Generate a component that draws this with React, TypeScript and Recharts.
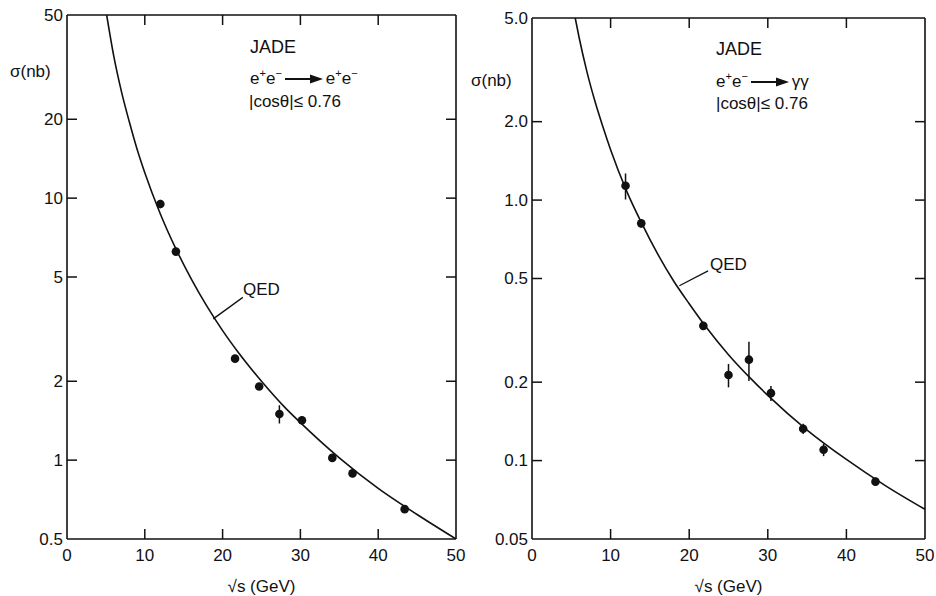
import React from "react";
import {
  ComposedChart,
  Scatter,
  Line,
  XAxis,
  YAxis,
  ErrorBar,
  ReferenceLine
} from "recharts";

const FONT = "'Liberation Sans', Arial, sans-serif";
const INK = "#111";

// sqrt(s) axis, shared by both panels
const energyTicks = [0, 10, 20, 30, 40, 50];
const innerEnergyTicks = [10, 20, 30, 40];

// left panel: e+e- -> e+e-
const bhabhaTicks = [0.5, 1, 2, 5, 10, 20, 50];
const bhabhaTickLabels = ["0.5", "1", "2", "5", "10", "20", "50"];
const bhabhaInnerTicks = [1, 2, 5, 10, 20];
const bhabhaX = [12.0, 14.0, 21.6, 24.7, 27.3, 30.2, 34.1, 36.7, 43.4];
const bhabhaSigma = [9.5, 6.25, 2.44, 1.91, 1.5, 1.42, 1.02, 0.89, 0.65];
const bhabhaErr = [0.35, 0.15, 0.07, 0.05, 0.12, 0.05, 0.03, 0.03, 0.02];
const bhabhaQedX = [5.1, 6, 7, 8, 9, 10, 12, 14, 16, 18, 20, 22, 25, 28, 30, 35, 40, 45, 50];
const bhabhaQedSigma = [50, 35, 25.5, 19.6, 15.4, 12.5, 8.7, 6.4, 4.9, 3.86, 3.12, 2.58, 2.0, 1.59, 1.39, 1.02, 0.78, 0.62, 0.5];

// right panel: e+e- -> gamma gamma
const gammaTicks = [0.05, 0.1, 0.2, 0.5, 1, 2, 5];
const gammaTickLabels = ["0.05", "0.1", "0.2", "0.5", "1.0", "2.0", "5.0"];
const gammaInnerTicks = [0.1, 0.2, 0.5, 1, 2];
const gammaX = [11.9, 13.9, 21.8, 25.0, 27.6, 30.4, 34.5, 37.1, 43.7];
const gammaSigma = [1.135, 0.814, 0.329, 0.213, 0.244, 0.1815, 0.1325, 0.11, 0.083];
const gammaErr = [0.13, 0.03, 0.012, 0.022, 0.042, 0.012, 0.006, 0.006, 0.003];
const gammaQedX = [5.5, 6, 7, 8, 9, 10, 12, 14, 16, 18, 20, 22, 25, 28, 30, 35, 40, 45, 50];
const gammaQedSigma = [5.0, 4.2, 3.1, 2.4, 1.92, 1.56, 1.09, 0.81, 0.62, 0.49, 0.4, 0.33, 0.255, 0.204, 0.178, 0.131, 0.101, 0.08, 0.065];

const TICK_LEN = 10;
const FRAME_W = 1.6;

const textStyle = { fontFamily: FONT, fontSize: 17, fill: INK };

const BottomLabel = ({ x, y, payload }: any) => (
  <text x={x} y={y + 16} textAnchor="middle" dominantBaseline="central" {...textStyle}>
    {payload.value}
  </text>
);

const makeLeftLabel = (ticks: number[], labels: string[]) => ({ x, y, payload }: any) => (
  <text x={x - 4} y={y} textAnchor="end" dominantBaseline="central" {...textStyle}>
    {labels[ticks.indexOf(payload.value)]}
  </text>
);

// inward tick marks at both ends of a grid position (bottom + top frame)
const VTickMarks = ({ x1, y1, y2 }: any) => {
  const top = Math.min(y1, y2);
  const bottom = Math.max(y1, y2);
  return (
    <g>
      <line x1={x1} x2={x1} y1={bottom} y2={bottom - TICK_LEN} stroke={INK} strokeWidth={1.5} />
      <line x1={x1} x2={x1} y1={top} y2={top + TICK_LEN} stroke={INK} strokeWidth={1.5} />
    </g>
  );
};

// inward tick marks on left + right frame
const HTickMarks = ({ x1, x2, y1 }: any) => {
  const l = Math.min(x1, x2);
  const r = Math.max(x1, x2);
  return (
    <g>
      <line x1={l} x2={l + TICK_LEN} y1={y1} y2={y1} stroke={INK} strokeWidth={1.5} />
      <line x1={r} x2={r - TICK_LEN} y1={y1} y2={y1} stroke={INK} strokeWidth={1.5} />
    </g>
  );
};

const Dot = (props: any) => <circle cx={props.cx} cy={props.cy} r={4.3} fill={INK} />;

interface PanelProps {
  left: number;
  top: number;
  right: number;
  yAxisWidth: number;
  ticks: number[];
  labels: string[];
  innerTicks: number[];
  xs: number[];
  sigmas: number[];
  errs: number[];
  qedX: number[];
  qedSigma: number[];
  leader: { x: number; y: number }[];
}

function Panel(p: PanelProps) {
  const points = p.xs.map((x, i) => ({ x, y: p.sigmas[i], err: p.errs[i] }));
  const curve = p.qedX.map((x, i) => ({ x, y: p.qedSigma[i] }));
  const yMin = p.ticks[0];
  const yMax = p.ticks[p.ticks.length - 1];
  return (
    <div style={{ position: "absolute", left: p.left, top: 0 }}>
      <ComposedChart
        width={470}
        height={596}
        margin={{ top: p.top, right: p.right, bottom: 0, left: 0 }}
      >
        <XAxis
          dataKey="x"
          type="number"
          domain={[0, 50]}
          ticks={energyTicks}
          interval={0}
          height={57}
          axisLine={false}
          tickLine={false}
          tickSize={0}
          tickMargin={0}
          tick={<BottomLabel />}
          label={{
            value: "√s (GeV)",
            position: "insideBottom",
            offset: 4,
            style: textStyle
          }}
        />
        <YAxis
          dataKey="y"
          type="number"
          scale="log"
          domain={[yMin, yMax]}
          allowDataOverflow
          ticks={p.ticks}
          interval={0}
          width={p.yAxisWidth}
          axisLine={false}
          tickLine={false}
          tickSize={0}
          tickMargin={0}
          tick={makeLeftLabel(p.ticks, p.labels)}
        />

        {/* frame */}
        <ReferenceLine x={0} stroke={INK} strokeWidth={FRAME_W} ifOverflow="visible" />
        <ReferenceLine x={50} stroke={INK} strokeWidth={FRAME_W} ifOverflow="visible" />
        <ReferenceLine y={yMin} stroke={INK} strokeWidth={FRAME_W} ifOverflow="visible" />
        <ReferenceLine y={yMax} stroke={INK} strokeWidth={FRAME_W} ifOverflow="visible" />
        {innerEnergyTicks.map((t) => (
          <ReferenceLine key={`xt-${t}`} x={t} shape={<VTickMarks />} ifOverflow="visible" />
        ))}
        {p.innerTicks.map((t) => (
          <ReferenceLine key={`yt-${t}`} y={t} shape={<HTickMarks />} ifOverflow="visible" />
        ))}

        <Line
          data={curve}
          dataKey="y"
          type="monotone"
          stroke={INK}
          strokeWidth={1.6}
          dot={false}
          isAnimationActive={false}
        />
        <ReferenceLine segment={p.leader} stroke={INK} strokeWidth={1.3} ifOverflow="visible" />
        <Scatter data={points} dataKey="y" shape={<Dot />} isAnimationActive={false}>
          <ErrorBar dataKey="err" direction="y" width={0} stroke={INK} strokeWidth={1.5} />
        </Scatter>
      </ComposedChart>
    </div>
  );
}

const Arrow = () => (
  <svg width={38} height={10} style={{ margin: "0 3px", verticalAlign: "middle" }}>
    <line x1={0} y1={5} x2={28} y2={5} stroke={INK} strokeWidth={2} />
    <polygon points="25,0.5 38,5 25,9.5" fill={INK} />
  </svg>
);

const abs = (left: number, top: number, extra: any = {}) => ({
  position: "absolute" as const,
  left,
  top,
  lineHeight: 1,
  whiteSpace: "nowrap" as const,
  ...extra
});

const sup = { fontSize: 11 };

export default function App() {
  return (
    <div
      style={{
        position: "absolute",
        left: 0,
        top: 0,
        width: 936,
        height: 596,
        background: "#fff",
        fontFamily: FONT,
        color: INK,
        fontSize: 17
      }}
    >
      <Panel
        left={0}
        top={15}
        right={14}
        yAxisWidth={67}
        ticks={bhabhaTicks}
        labels={bhabhaTickLabels}
        innerTicks={bhabhaInnerTicks}
        xs={bhabhaX}
        sigmas={bhabhaSigma}
        errs={bhabhaErr}
        qedX={bhabhaQedX}
        qedSigma={bhabhaQedSigma}
        leader={[{ x: 18.8, y: 3.46 }, { x: 22.6, y: 4.18 }]}
      />
      <Panel
        left={466}
        top={18}
        right={11}
        yAxisWidth={66}
        ticks={gammaTicks}
        labels={gammaTickLabels}
        innerTicks={gammaInnerTicks}
        xs={gammaX}
        sigmas={gammaSigma}
        errs={gammaErr}
        qedX={gammaQedX}
        qedSigma={gammaQedSigma}
        leader={[{ x: 18.75, y: 0.469 }, { x: 22.4, y: 0.535 }]}
      />

      {/* left panel annotations */}
      <div style={abs(10, 63)}>σ(nb)</div>
      <div style={abs(250, 38, { fontSize: 18 })}>JADE</div>
      <div style={abs(250, 68)}>
        e<sup style={sup}>+</sup>e<sup style={sup}>−</sup>
        <Arrow />
        e<sup style={sup}>+</sup>e<sup style={sup}>−</sup>
      </div>
      <div style={abs(249, 93)}>|cosθ|≤ 0.76</div>
      <div style={abs(243, 281)}>QED</div>

      {/* right panel annotations */}
      <div style={abs(471, 72)}>σ(nb)</div>
      <div style={abs(716, 40, { fontSize: 18 })}>JADE</div>
      <div style={abs(716, 71)}>
        e<sup style={sup}>+</sup>e<sup style={sup}>−</sup>
        <Arrow />
        γγ
      </div>
      <div style={abs(716, 95)}>|cosθ|≤ 0.76</div>
      <div style={abs(710, 256)}>QED</div>
    </div>
  );
}
